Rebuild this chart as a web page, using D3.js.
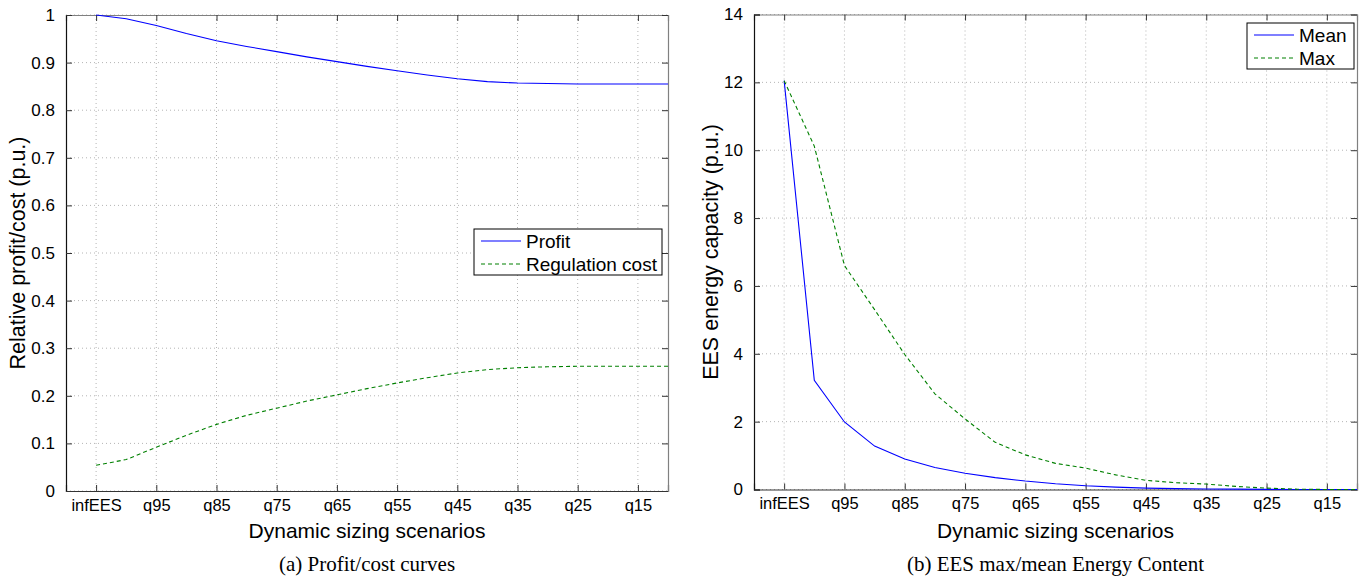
<!DOCTYPE html>
<html>
<head>
<meta charset="utf-8">
<script src="https://cdn.jsdelivr.net/npm/d3@7"></script>
<style>
    body { margin: 0; background: #fff; }
    text { font-family: "Liberation Sans", Arial, sans-serif; fill: #000; }
    .caption { font-family: "Liberation Serif", "Times New Roman", serif; }
</style>
</head>
<body>
<script>
// scenarios, one point every half tick
var scenarios = ["infEES", "q100", "q95", "q90", "q85", "q80", "q75", "q70",
    "q65", "q60", "q55", "q50", "q45", "q40", "q35", "q30", "q25", "q20",
    "q15", "q10"];
var tickLabels = ["infEES", "q95", "q85", "q75", "q65", "q55", "q45", "q35",
    "q25", "q15"];

// (a) profit / cost curves
var profit = [1.000, 0.992, 0.978, 0.961, 0.946, 0.934, 0.923, 0.912, 0.902,
    0.892, 0.883, 0.874, 0.866, 0.860, 0.857, 0.856, 0.855, 0.855, 0.855,
    0.855];
var regCost = [0.054, 0.066, 0.092, 0.117, 0.140, 0.159, 0.174, 0.189, 0.202,
    0.215, 0.227, 0.238, 0.248, 0.255, 0.259, 0.261, 0.262, 0.262, 0.262,
    0.262];

// (b) EES energy content
var meanEES = [12.05, 3.22, 1.99, 1.28, 0.90, 0.65, 0.48, 0.35, 0.25, 0.17,
    0.11, 0.07, 0.04, 0.025, 0.015, 0.01, 0.005, 0, 0, 0];
var maxEES = [12.05, 10.12, 6.6, 5.3, 3.98, 2.82, 2.08, 1.39, 1.02, 0.77,
    0.63, 0.43, 0.27, 0.20, 0.16, 0.09, 0.04, 0.01, 0, 0];

var svg = d3.select("body")
    .append("svg")
    .attr("width", 1367)
    .attr("height", 578);

function drawPanel(opt)
{
    var x = d3.scaleLinear().domain([-1, scenarios.length - 1])
        .range([opt.left, opt.right]);
    var y = d3.scaleLinear().domain(opt.yDomain).range([opt.bottom, opt.top]);
    var g = svg.append("g");
    var xt = tickLabels.map(function(t) { return scenarios.indexOf(t); });

    // grid
    g.selectAll(".gx").data(xt).enter().append("line")
        .attr("x1", function(d) { return x(d); })
        .attr("x2", function(d) { return x(d); })
        .attr("y1", opt.top).attr("y2", opt.bottom)
        .attr("stroke", "#b4b4b4").attr("stroke-dasharray", "1,3");
    g.selectAll(".gy").data(opt.yTicks).enter().append("line")
        .attr("x1", opt.left).attr("x2", opt.right)
        .attr("y1", function(d) { return y(d); })
        .attr("y2", function(d) { return y(d); })
        .attr("stroke", "#b4b4b4").attr("stroke-dasharray", "1,3");

    // axes, ticks pointing inward
    var bottomAxis = d3.axisBottom(x).tickValues(xt).tickSize(-6)
        .tickPadding(8)
        .tickFormat(function(d) { return scenarios[d]; });
    var topAxis = d3.axisTop(x).tickValues(xt).tickSize(-6)
        .tickFormat("");
    var leftAxis = d3.axisLeft(y).tickValues(opt.yTicks).tickSize(-6)
        .tickPadding(11).tickFormat(d3.format("~g"));
    var rightAxis = d3.axisRight(y).tickValues(opt.yTicks).tickSize(-6)
        .tickFormat("");

    var axes = [
        [bottomAxis, "translate(0," + opt.bottom + ")", "#333"],
        [topAxis, "translate(0," + opt.top + ")", "#808080"],
        [leftAxis, "translate(" + opt.left + ",0)", "#111"],
        [rightAxis, "translate(" + opt.right + ",0)", "#808080"]
    ];
    axes.forEach(function(a) {
        var ag = g.append("g").attr("transform", a[1]).call(a[0]);
        ag.select(".domain").attr("stroke", a[2]).attr("stroke-width", 1.2);
        ag.selectAll(".tick line").attr("stroke", "#333");
        ag.selectAll("text").style("font-size", "17px")
            .style("font-family", "Liberation Sans, Arial, sans-serif")
            .attr("fill", "#000");
    });
    g.selectAll(".tick text").filter(function() {
        return this.getAttribute("dy") === "0.71em";
    }).style("font-size", "16.5px");

    // lines
    var line = function(vals) {
        return d3.line()
            .x(function(d, i) { return x(i); })
            .y(function(d) { return y(d); })(vals);
    };
    opt.series.forEach(function(s) {
        g.append("path")
            .attr("d", line(s.values))
            .attr("fill", "none")
            .attr("stroke", s.color)
            .attr("stroke-width", 1.1)
            .attr("stroke-dasharray", s.dash);
    });

    // legend
    var lg = g.append("g");
    lg.append("rect")
        .attr("x", opt.legend[0]).attr("y", opt.legend[1])
        .attr("width", opt.legend[2]).attr("height", opt.legend[3])
        .attr("fill", "#fff").attr("stroke", "#000");
    opt.series.forEach(function(s, i) {
        var ly = opt.legend[1] + 12 + i * 23;
        lg.append("line")
            .attr("x1", opt.legend[0] + 7).attr("x2", opt.legend[0] + 47)
            .attr("y1", ly).attr("y2", ly)
            .attr("stroke", s.color).attr("stroke-width", 1.1)
            .attr("stroke-dasharray", s.dash);
        lg.append("text")
            .attr("x", opt.legend[0] + 52).attr("y", ly)
            .attr("dy", "0.35em")
            .style("font-size", "19px")
            .text(s.name);
    });

    // labels
    var cx = (opt.left + opt.right) / 2;
    g.append("text")
        .attr("x", cx).attr("y", 538)
        .attr("text-anchor", "middle")
        .style("font-size", "21px")
        .text("Dynamic sizing scenarios");
    g.append("text")
        .attr("transform", "translate(" + opt.yLabelX + ","
            + (opt.top + opt.bottom) / 2 + ") rotate(-90)")
        .attr("text-anchor", "middle")
        .style("font-size", "21.5px")
        .text(opt.yLabel);
    g.append("text")
        .attr("class", "caption")
        .attr("x", cx).attr("y", 571)
        .attr("text-anchor", "middle")
        .style("font-size", "21px")
        .text(opt.caption);
}

drawPanel({
    left: 66, right: 668, top: 15, bottom: 491,
    yDomain: [0, 1], yTicks: d3.range(0, 1.05, 0.1),
    yLabel: "Relative profit/cost (p.u.)", yLabelX: 25,
    caption: "(a) Profit/cost curves",
    legend: [474, 229, 188, 46],
    series: [
        { name: "Profit", values: profit, color: "#0000ff", dash: null },
        { name: "Regulation cost", values: regCost, color: "#008000",
            dash: "4,3" }
    ]
});

drawPanel({
    left: 754, right: 1357, top: 14.5, bottom: 489.5,
    yDomain: [0, 14], yTicks: d3.range(0, 15, 2),
    yLabel: "EES energy capacity (p.u.)", yLabelX: 718,
    caption: "(b) EES max/mean Energy Content",
    legend: [1247, 23, 107, 46],
    series: [
        { name: "Mean", values: meanEES, color: "#0000ff", dash: null },
        { name: "Max", values: maxEES, color: "#008000", dash: "4,3" }
    ]
});
</script>
</body>
</html>
